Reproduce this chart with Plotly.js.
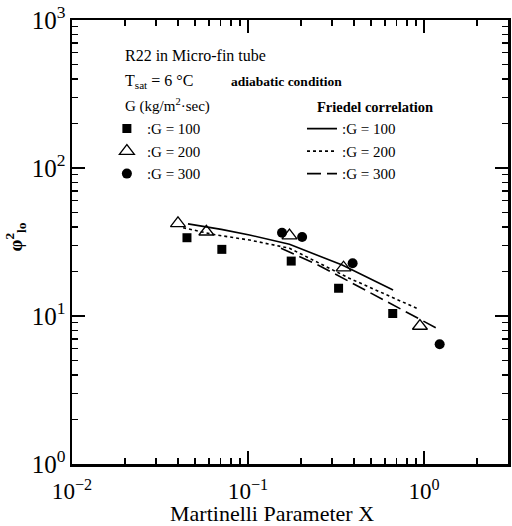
<!DOCTYPE html>
<html>
<head>
<meta charset="utf-8">
<script src="https://cdn.plot.ly/plotly-3.0.1.min.js"></script>
<style>
  html, body { margin: 0; padding: 0; background: #fff; }
  #chart { width: 512px; height: 526px; }
</style>
</head>
<body>
<div id="chart"></div>
<script>
// Measured two-phase multiplier vs. Martinelli parameter, R22 in a micro-fin tube
const g100X = [0.045, 0.071, 0.176, 0.327, 0.664];
const g100Y = [33.8, 28.2, 23.5, 15.4, 10.4];
const g200X = [0.040, 0.058, 0.172, 0.349, 0.948];
const g200Y = [42.3, 37.1, 34.9, 21.2, 8.56];
const g300X = [0.156, 0.203, 0.393, 1.227];
const g300Y = [36.5, 34.2, 22.7, 6.44];

// Friedel correlation predictions
const fr100X = [0.0456, 0.0705, 0.102, 0.172, 0.343, 0.667];
const fr100Y = [41.9, 38.5, 35.3, 30.5, 22.1, 15.0];
const fr200X = [0.0428, 0.0631, 0.102, 0.172, 0.376, 0.937];
const fr200Y = [39.5, 35.6, 32.6, 28.7, 18.0, 11.1];
const fr300X = [0.154, 0.243, 0.376, 0.688, 1.233];
const fr300Y = [28.7, 22.5, 17.1, 11.7, 8.04];

const seriesNames = [':G = 100', ':G = 200', ':G = 300'];

// decade labels written as powers of ten
const decadeLabels = {
  '1': '10<sup>0</sup>',
  '10': '10<sup>1</sup>'
};

const FONT = 'Liberation Serif, Times New Roman, serif';
const X_RANGE = [-2, Math.log10(3)];
const Y_RANGE = [0, 3];

// minor tick positions 2..9 inside each decade
function minorTicks(lo, hi) {
  const out = [];
  for (let e = lo; e < hi; e++) {
    for (let m = 2; m <= 9; m++) out.push(m * Math.pow(10, e));
  }
  return out;
}

const traces = [
  { x: g100X, y: g100Y, name: seriesNames[0], mode: 'markers', type: 'scatter',
    marker: { symbol: 'square', size: 9, color: '#000' }, legend: 'legend' },
  { x: g200X, y: g200Y, name: seriesNames[1], mode: 'markers', type: 'scatter',
    marker: { symbol: 'triangle-up-open', size: 13, color: '#000', line: { width: 1.3, color: '#000' } }, legend: 'legend' },
  { x: g300X, y: g300Y, name: seriesNames[2], mode: 'markers', type: 'scatter',
    marker: { symbol: 'circle', size: 10, color: '#000' }, legend: 'legend' },
  { x: fr100X, y: fr100Y, name: seriesNames[0], mode: 'lines', type: 'scatter',
    line: { color: '#000', width: 1.6, dash: 'solid' }, legend: 'legend2' },
  { x: fr200X, y: fr200Y, name: seriesNames[1], mode: 'lines', type: 'scatter',
    line: { color: '#000', width: 1.6, dash: 'dot' }, legend: 'legend2' },
  { x: fr300X, y: fr300Y, name: seriesNames[2], mode: 'lines', type: 'scatter',
    line: { color: '#000', width: 1.6, dash: '14px,6px' }, legend: 'legend2' },
  // carries the minor-tick axes; drawn fully transparent
  { x: g100X, y: g100Y, xaxis: 'x2', yaxis: 'y2', mode: 'markers', type: 'scatter',
    marker: { opacity: 0 }, showlegend: false, hoverinfo: 'skip' }
];

const axisCommon = {
  type: 'log',
  showgrid: false,
  zeroline: false,
  showline: true,
  linecolor: '#000',
  linewidth: 2.5,
  mirror: 'ticks',
  ticks: 'inside',
  ticklen: 13,
  tickwidth: 1.6,
  tickcolor: '#000000',
  tickmode: 'linear',
  tick0: 0,
  dtick: 1,
  exponentformat: 'power',
  showexponent: 'all',
  labelalias: decadeLabels
};

// overlay axes that carry only the short minor ticks
const minorAxis = {
  type: 'log',
  showgrid: false,
  zeroline: false,
  showline: false,
  showticklabels: false,
  mirror: 'ticks',
  ticks: 'inside',
  ticklen: 6,
  tickwidth: 1.3,
  tickcolor: '#000000',
  tickmode: 'array'
};

const layout = {
  width: 512,
  height: 526,
  margin: { l: 72, r: 4, t: 20, b: 62 },
  paper_bgcolor: '#fff',
  plot_bgcolor: '#fff',
  font: { family: FONT, color: '#000', size: 15 },
  xaxis: Object.assign({}, axisCommon, {
    range: X_RANGE,
    tickfont: { family: FONT, size: 18.5, color: '#000' },
    ticklabelstandoff: 6
  }),
  yaxis: Object.assign({}, axisCommon, {
    range: Y_RANGE,
    tickfont: { family: FONT, size: 20, color: '#000' }
  }),
  xaxis2: Object.assign({}, minorAxis, {
    range: X_RANGE, overlaying: 'x', anchor: 'y2', side: 'bottom',
    tickvals: minorTicks(-2, 1)
  }),
  yaxis2: Object.assign({}, minorAxis, {
    range: Y_RANGE, overlaying: 'y', anchor: 'x2', side: 'left',
    tickvals: minorTicks(0, 3)
  }),
  showlegend: true,
  legend: {
    x: 0.08, y: 0.792, xanchor: 'left', yanchor: 'top',
    bgcolor: 'rgba(0,0,0,0)', borderwidth: 0,
    font: { family: FONT, size: 15, color: '#000' },
    tracegroupgap: 0
  },
  legend2: {
    x: 0.5275, y: 0.792, xanchor: 'left', yanchor: 'top',
    bgcolor: 'rgba(0,0,0,0)', borderwidth: 0,
    font: { family: FONT, size: 15, color: '#000' },
    tracegroupgap: 0
  },
  annotations: [
    { text: 'R22 in Micro-fin tube', xref: 'paper', yref: 'paper', x: 0.117, y: 0.92,
      xanchor: 'left', yanchor: 'middle', showarrow: false, font: { family: FONT, size: 16 } },
    { text: 'T<sub>sat</sub> = 6 °C', xref: 'paper', yref: 'paper', x: 0.117, y: 0.862,
      xanchor: 'left', yanchor: 'middle', showarrow: false, font: { family: FONT, size: 16 } },
    { text: '<b>adiabatic condition</b>', xref: 'paper', yref: 'paper', x: 0.36, y: 0.862,
      xanchor: 'left', yanchor: 'middle', showarrow: false, font: { family: FONT, size: 13.5 } },
    { text: 'G (kg/m<sup>2</sup>·sec)', xref: 'paper', yref: 'paper', x: 0.117, y: 0.807,
      xanchor: 'left', yanchor: 'middle', showarrow: false, font: { family: FONT, size: 15 } },
    { text: '<b>Friedel correlation</b>', xref: 'paper', yref: 'paper', x: 0.557, y: 0.804,
      xanchor: 'left', yanchor: 'middle', showarrow: false, font: { family: FONT, size: 14.5 } },
    { text: 'Martinelli Parameter X', xref: 'paper', yref: 'paper', x: 0.459, y: -0.111,
      xanchor: 'center', yanchor: 'middle', showarrow: false, font: { family: FONT, size: 22 } },
    { text: '<b>φ<sup>2</sup><sub>lo</sub></b>', xref: 'paper', yref: 'paper', x: -0.13, y: 0.511,
      xanchor: 'center', yanchor: 'middle', showarrow: false, textangle: -90, font: { family: FONT, size: 19 } }
  ]
};

Plotly.newPlot('chart', traces, layout, { displayModeBar: false, staticPlot: true });
</script>
</body>
</html>
